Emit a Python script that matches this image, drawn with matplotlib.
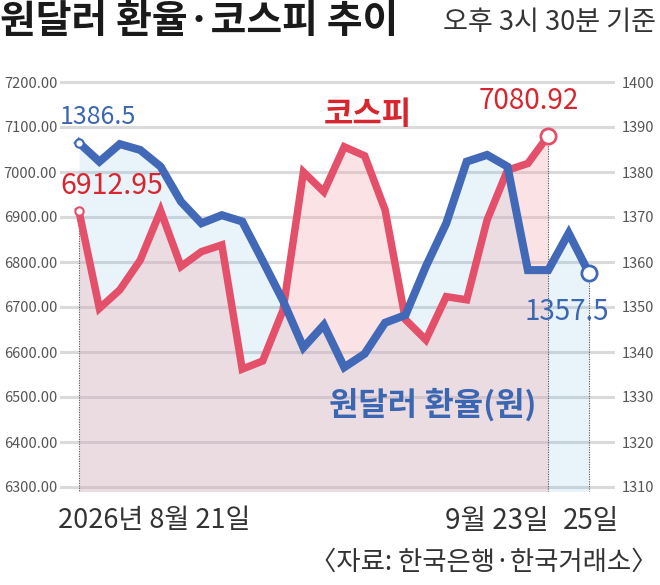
import matplotlib
matplotlib.use('Agg')
import matplotlib.pyplot as plt
import matplotlib.transforms as mtransforms
import numpy as np

# 2026-08-21 .. 09-25 trading days (index 0..25)
kospi = [6912.95, 6697, 6738, 6804, 6914, 6790, 6823, 6838, 6562, 6580,
         6693, 7000, 6956, 7056, 7036, 6916, 6672, 6627, 6723, 6716,
         6893, 7004, 7019, 7080.92]
krw = [1386.5, 1382.3, 1386.2, 1384.9, 1381.2, 1373.4, 1368.6, 1370.4, 1369.0, 1360.3,
       1351.4, 1341.0, 1346.0, 1336.6, 1339.6, 1346.5, 1348.2, 1359.0, 1368.6, 1382.3,
       1383.8, 1381.2, 1358.2, 1358.2, 1366.4, 1357.5]
left_ticks = [6300, 6400, 6500, 6600, 6700, 6800, 6900, 7000, 7100, 7200]
right_ticks = [1310, 1320, 1330, 1340, 1350, 1360, 1370, 1380, 1390, 1400]
date_labels = ['2026년 8월 21일', '9월 23일', '25일']

FONT = ['Noto Sans CJK KR', 'DejaVu Sans']
RED_LINE = '#e4506a'
BLUE_LINE = '#4169b8'
RED_TXT = '#d7262f'
BLUE_TXT = '#3a66b2'
GRAY = '#555555'
DARK = '#333333'

x_k = np.arange(len(kospi))
x_w = np.arange(len(krw))

fig = plt.figure(figsize=(6.6, 5.85), dpi=100)
ax = fig.add_axes([60 / 660, 1 - 491.5 / 585, 555 / 660, 414 / 585])
ax2 = ax.twinx()
kt = ax.transData  # kospi values live on the left scale

for a in (ax, ax2):
    for s in a.spines.values():
        s.set_visible(False)
    a.tick_params(length=0)
ax.set_xticks([])

ax.set_yticks(left_ticks)
ax.set_yticklabels([f'{v:.2f}' for v in left_ticks], family=FONT, fontsize=10.5, color=GRAY)
ax.tick_params(axis='y', pad=2)
ax2.set_yticks(right_ticks)
ax2.set_yticklabels([str(v) for v in right_ticks], family=FONT, fontsize=10.5, color=GRAY)
ax2.tick_params(axis='y', pad=5)
ax.grid(axis='y', color='#dadada', linewidth=2.2, zorder=0)
ax.set_axisbelow(True)

# fills (blue first, red on top)
ax2.fill_between(x_w, krw, 1309, color='#66b6e4', alpha=0.15, linewidth=0, zorder=1)
ax2.fill_between(x_k, kospi, 6290, color='#f5a5ac', alpha=0.30, linewidth=0, zorder=1.5,
                 transform=kt)

# dotted guides
ax2.plot([x_k[0], x_k[0]], [kospi[0], 6292], color='#555555', lw=0.8, ls=(0, (1, 1.2)),
         zorder=2, transform=kt)
ax2.plot([x_k[-1], x_k[-1]], [kospi[-1], 6292], color='#555555', lw=0.8, ls=(0, (1, 1.2)),
         zorder=2, transform=kt)
ax2.plot([x_w[-1], x_w[-1]], [krw[-1], 1309.2], color='#555555', lw=0.8, ls=(0, (1, 1.2)),
         zorder=2)

# lines
ax2.plot(x_k, kospi, color=RED_LINE, lw=5.4, solid_joinstyle='miter', zorder=3, transform=kt)
ax2.plot(x_w, krw, color=BLUE_LINE, lw=5.8, solid_joinstyle='miter', zorder=3.5)

# end markers
ax2.plot(x_k[0], kospi[0], 'o', ms=6, mfc='white', mec=RED_LINE, mew=1.5, zorder=4, transform=kt)
ax2.plot(x_k[-1], kospi[-1], 'o', ms=11, mfc='white', mec=RED_LINE, mew=2, zorder=4, transform=kt)
ax2.plot(x_w[0], krw[0], 'o', ms=6, mfc='white', mec=BLUE_LINE, mew=1.5, zorder=4)
ax2.plot(x_w[-1], krw[-1], 'o', ms=11, mfc='white', mec=BLUE_LINE, mew=2, zorder=4)

ax.set_xlim(-0.93, 26.27)
ax.set_ylim(6290, 7210)
ax2.set_ylim(1309, 1401)

# value labels
ax2.text(-0.93, 1392.2, f'{krw[0]}', family=FONT, fontsize=18, color=BLUE_TXT,
         ha='left', va='center', zorder=5)
ax2.text(-0.93, 6968, f'{kospi[0]:.2f}', family=FONT, fontsize=20.5, color=RED_TXT,
         ha='left', va='center', zorder=5, transform=kt)
ax2.text(22.06, 7157, f'{kospi[-1]:.2f}', family=FONT, fontsize=20, color=RED_TXT,
         ha='center', va='center', zorder=5, transform=kt)
ax2.text(23.9, 1348.9, f'{krw[-1]}', family=FONT, fontsize=20, color=BLUE_TXT,
         ha='center', va='center', zorder=5)
ax2.text(14.17, 7127, '코스피', family=FONT, fontsize=23, weight='bold', color=RED_TXT,
         ha='center', va='center', zorder=5, transform=kt)
ax2.text(17.33, 1328.2, '원달러 환율(원)', family=FONT, fontsize=23, weight='bold',
         color=BLUE_TXT, ha='center', va='center', zorder=5)

# date labels
trans = mtransforms.blended_transform_factory(ax2.transData, fig.transFigure)
ax2.text(-1.05, 1 - 521 / 585, date_labels[0], transform=trans, family=FONT, fontsize=19.5,
         color=DARK, ha='left', va='center')
ax2.text(23.0, 1 - 521 / 585, date_labels[1], transform=trans, family=FONT, fontsize=20,
         color=DARK, ha='right', va='center')
ax2.text(25.1, 1 - 521 / 585, date_labels[2], transform=trans, family=FONT, fontsize=20,
         color=DARK, ha='center', va='center')

# title / notes
fig.text(0.0, 1 - 22 / 585, '원달러 환율·코스피 추이', family=FONT, fontsize=28,
         weight='bold', color='#1a1a1a', ha='left', va='center')
fig.text(656 / 660, 1 - 23 / 585, '오후 3시 30분 기준', family=FONT, fontsize=19.5,
         color=DARK, ha='right', va='center')
fig.text(657 / 660, 1 - 562 / 585, '〈자료: 한국은행·한국거래소〉', family=FONT, fontsize=19,
         color=DARK, ha='right', va='center')

fig.savefig('out.png', dpi=100)
plt.close(fig)
